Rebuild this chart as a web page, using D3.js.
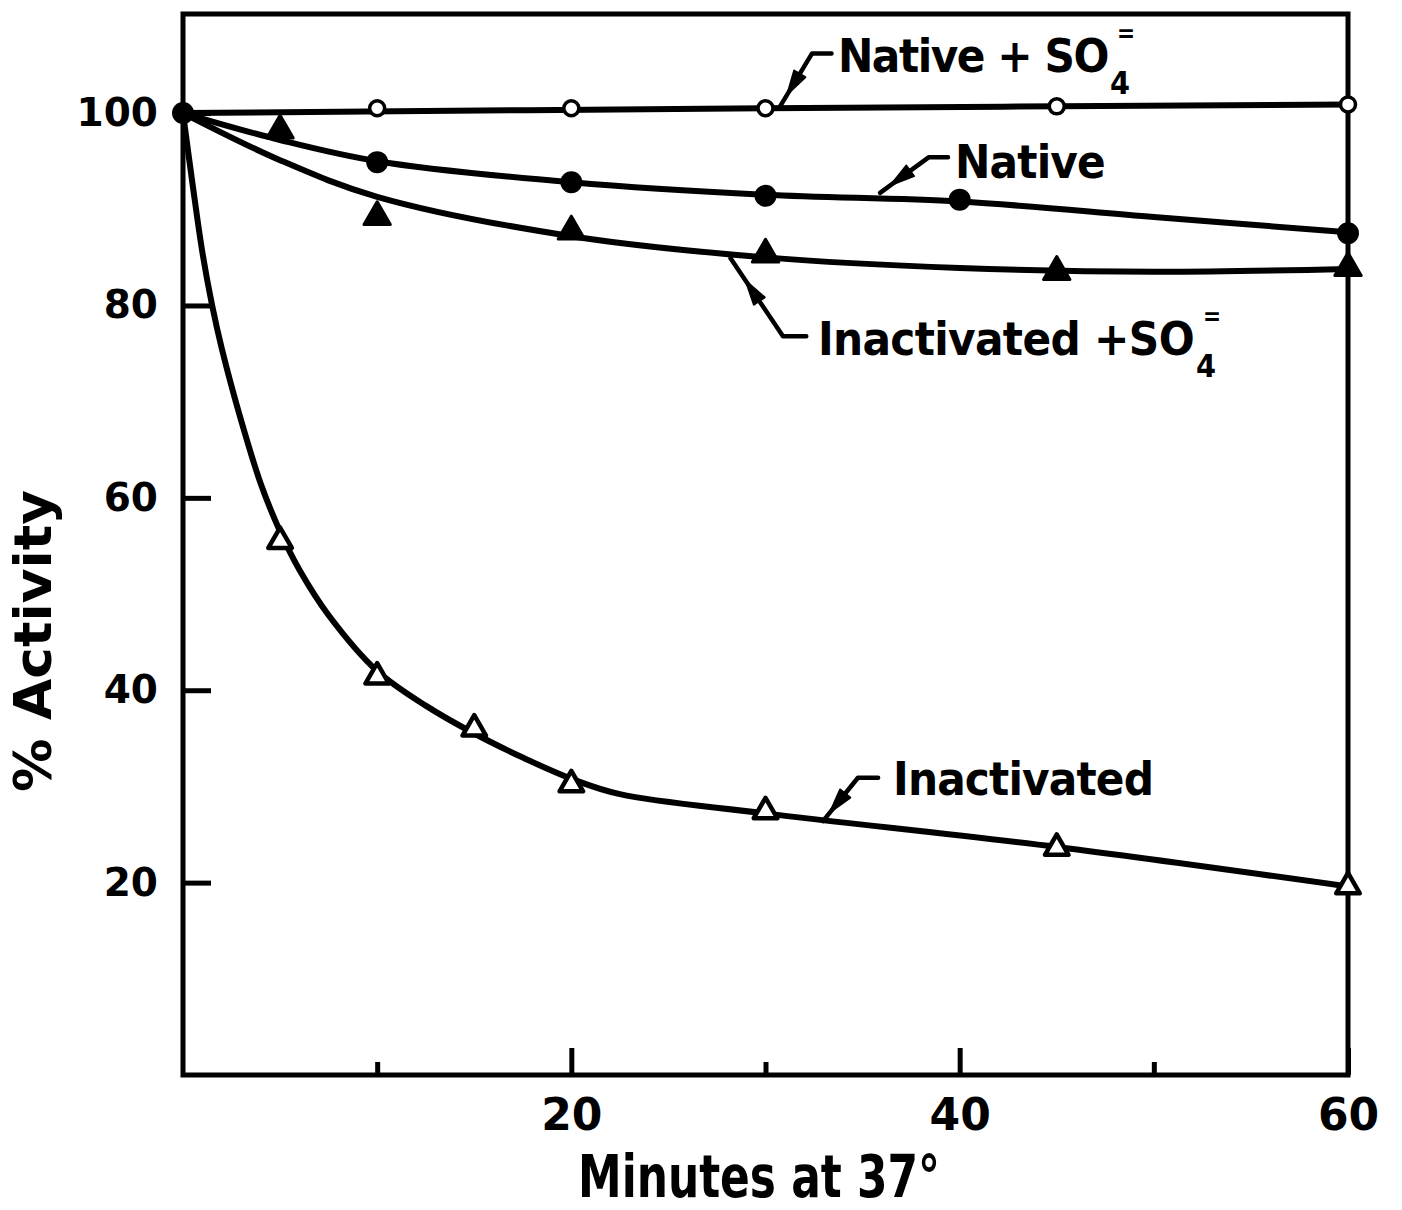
<!DOCTYPE html>
<html>
<head>
<meta charset="utf-8">
<script src="https://cdn.jsdelivr.net/npm/d3@7"></script>
<style>
  html, body { margin: 0; padding: 0; background: #fff; }
  svg { display: block; }
</style>
</head>
<body>
<svg id="chart" width="1402" height="1210"></svg>
<script>
// ---------------- DATA ----------------
const xTickMajor = [20, 40, 60];
const xTickMinor = [10, 30, 50];
const yTicks = [20, 40, 60, 80, 100];

// measured points (minutes, % activity)
const nativeSO4Pts   = [[0,100],[10,100.5],[20,100.5],[30,100.5],[45,100.7],[60,100.9]];
const nativePts      = [[0,100],[10,94.9],[20,92.8],[30,91.4],[40,91.0],[60,87.5]];
const inactSO4Pts    = [[5,98.2],[10,89.2],[20,87.7],[30,85.3],[45,83.5],[60,83.9]];
const inactPts       = [[5,55.5],[10,41.4],[15,36.0],[20,30.2],[30,27.4],[45,23.6],[60,19.6]];

// hand-drawn fitted curves
const nativeSO4Fit = [[0,100],[30,100.5],[60,100.9]];
const nativeFit    = [[0,100],[5,97.2],[10,95.0],[20,92.8],[30,91.5],[40,90.8],[50,89.2],[60,87.6]];
const inactSO4Fit  = [[0,100],[5,95.1],[10,91.3],[20,87.2],[30,85.0],[40,83.9],[50,83.5],[60,83.8]];
const inactFit     = [[0,100],[0.5,92.5],[1,85.5],[1.5,80],[2,75.5],[3,68],[4,61.5],[5,56.5],[6,52.5],
                      [7.5,47.8],[10,42],[12.5,38.4],[15,35.5],[17.5,33],[20,30.8],[22.5,29.2],[30,27.2],[45,23.7],[60,19.6]];

// annotation leaders: [curve point, corner, end of horizontal], text anchor (data units)
const labels = [
  { text: "Native + SO", sub: "4", sup: "=", leader: [[30.75,100.7],[32.4,106.2],[33.4,106.2]], at: [33.73,104.3], len: 270 },
  { text: "Native",       leader: [[35.9,91.7],[38.4,95.4],[39.4,95.4]], at: [39.76,93.25], len: 150 },
  { text: "Inactivated +SO", sub: "4", sup: "=", leader: [[28.2,84.9],[30.9,76.8],[32.1,76.8]], at: [32.7,74.85], len: 376 },
  { text: "Inactivated",  leader: [[32.96,26.4],[34.76,30.9],[35.8,30.9]], at: [36.57,29.1], len: 260 }
];

// ---------------- LAYOUT ----------------
const svg = d3.select("#chart");
const x = d3.scaleLinear().domain([0, 60]).range([183, 1348]);
const y = d3.scaleLinear().domain([0, 110.3]).range([1075, 14]);

const narrow = "'Liberation Sans Narrow','DejaVu Sans Condensed',Arial,sans-serif";
const wide = "'DejaVu Sans',Verdana,sans-serif";

// frame
svg.append("rect")
  .attr("x", x(0)).attr("y", y(110.3))
  .attr("width", x(60) - x(0)).attr("height", y(0) - y(110.3))
  .attr("fill", "none").attr("stroke", "#000").attr("stroke-width", 5);

// y axis
const gy = svg.append("g").attr("transform", `translate(${x(0)},0)`)
  .call(d3.axisLeft(y).tickValues(yTicks).tickSize(-28).tickPadding(25));
gy.select(".domain").remove();
gy.selectAll(".tick line").attr("stroke", "#000").attr("stroke-width", 5);
gy.selectAll(".tick text").attr("font-family", wide).attr("font-weight", "bold")
  .attr("font-size", 39).attr("fill", "#000");

// x axis major
const gx = svg.append("g").attr("transform", `translate(0,${y(0)})`)
  .call(d3.axisBottom(x).tickValues(xTickMajor).tickSize(-27).tickPadding(24));
gx.select(".domain").remove();
gx.selectAll(".tick line").attr("stroke", "#000").attr("stroke-width", 5);
gx.selectAll(".tick text").attr("font-family", wide).attr("font-weight", "bold")
  .attr("font-size", 44).attr("fill", "#000");
// x axis minor
const gx2 = svg.append("g").attr("transform", `translate(0,${y(0)})`)
  .call(d3.axisBottom(x).tickValues(xTickMinor).tickSize(-13).tickFormat(""));
gx2.select(".domain").remove();
gx2.selectAll(".tick line").attr("stroke", "#000").attr("stroke-width", 5);

// axis titles
svg.append("text").attr("x", 578).attr("y", 1197)
  .attr("font-family", narrow).attr("font-weight", "bold").attr("font-size", 58)
  .attr("textLength", 362).attr("lengthAdjust", "spacingAndGlyphs")
  .text("Minutes at 37°");
svg.append("text").attr("transform", "translate(51,792) rotate(-90)")
  .attr("font-family", narrow).attr("font-weight", "bold").attr("font-size", 52)
  .attr("textLength", 302).attr("lengthAdjust", "spacingAndGlyphs")
  .text("% Activity");

// curves
const line = d3.line().x(d => x(d[0])).y(d => y(d[1])).curve(d3.curveCatmullRom.alpha(0.5));
[nativeSO4Fit, nativeFit, inactSO4Fit, inactFit].forEach(f => {
  svg.append("path").datum(f).attr("d", line)
    .attr("fill", "none").attr("stroke", "#000").attr("stroke-width", 6)
    .attr("stroke-linecap", "round").attr("stroke-linejoin", "round");
});

// markers
svg.selectAll(".openTri").data(inactPts).join("path")
  .attr("transform", d => `translate(${x(d[0])},${y(d[1])})`)
  .attr("d", d3.symbol().type(d3.symbolTriangle).size(240)()).attr("fill", "#fff").attr("stroke", "#000").attr("stroke-width", 4.5)
  .attr("stroke-linejoin", "round");
svg.selectAll(".fillTri").data(inactSO4Pts).join("path")
  .attr("transform", d => `translate(${x(d[0])},${y(d[1])})`)
  .attr("d", d3.symbol().type(d3.symbolTriangle).size(300)()).attr("fill", "#000")
  .attr("stroke", "#000").attr("stroke-width", 3).attr("stroke-linejoin", "round");
svg.selectAll(".openCirc").data(nativeSO4Pts.filter(d => d[0] > 0)).join("circle")
  .attr("cx", d => x(d[0])).attr("cy", d => y(d[1])).attr("r", 7.5)
  .attr("fill", "#fff").attr("stroke", "#000").attr("stroke-width", 3.5);
svg.selectAll(".fillCirc").data(nativePts).join("circle")
  .attr("cx", d => x(d[0])).attr("cy", d => y(d[1])).attr("r", 11)
  .attr("fill", "#000");

// annotations
labels.forEach(l => {
  const p = l.leader.map(d => [x(d[0]), y(d[1])]);
  svg.append("path").attr("d", d3.line()(p))
    .attr("fill", "none").attr("stroke", "#000").attr("stroke-width", 4.5)
    .attr("stroke-linecap", "round").attr("stroke-linejoin", "round");
  // arrowhead on diagonal, pointing to curve
  const [a, b] = [p[0], p[1]];
  const ang = Math.atan2(a[1] - b[1], a[0] - b[0]);
  const mx = a[0] + (b[0] - a[0]) * 0.42, my = a[1] + (b[1] - a[1]) * 0.42;
  const L = 24, W = 6.5;
  const tip = [mx + Math.cos(ang) * L / 2, my + Math.sin(ang) * L / 2];
  const base = [mx - Math.cos(ang) * L / 2, my - Math.sin(ang) * L / 2];
  const nx = -Math.sin(ang), ny = Math.cos(ang);
  svg.append("path").attr("d", d3.line()([tip, [base[0] + nx * W, base[1] + ny * W], base, [base[0] - nx * W, base[1] - ny * W]]) + "Z")
    .attr("fill", "#000").attr("stroke", "#000").attr("stroke-width", 2).attr("stroke-linejoin", "round");

  const t = svg.append("text").attr("x", x(l.at[0])).attr("y", y(l.at[1]))
    .attr("font-family", narrow).attr("font-weight", "bold").attr("font-size", 47);
  const main = t.append("tspan").text(l.text);
  // fit main text to the measured width of the reference label
  const natural = main.node().getComputedTextLength();
  const n = l.text.length;
  main.attr("letter-spacing", (l.len - natural) / n);
  if (l.sub) {
    t.append("tspan").attr("dx", 2).attr("dy", 22).attr("font-size", 32).attr("letter-spacing", 0).text(l.sub);
    t.append("tspan").attr("dx", -13).attr("dy", -52).attr("font-size", 24).attr("letter-spacing", 0).text(l.sup);
  }
});
</script>
</body>
</html>
